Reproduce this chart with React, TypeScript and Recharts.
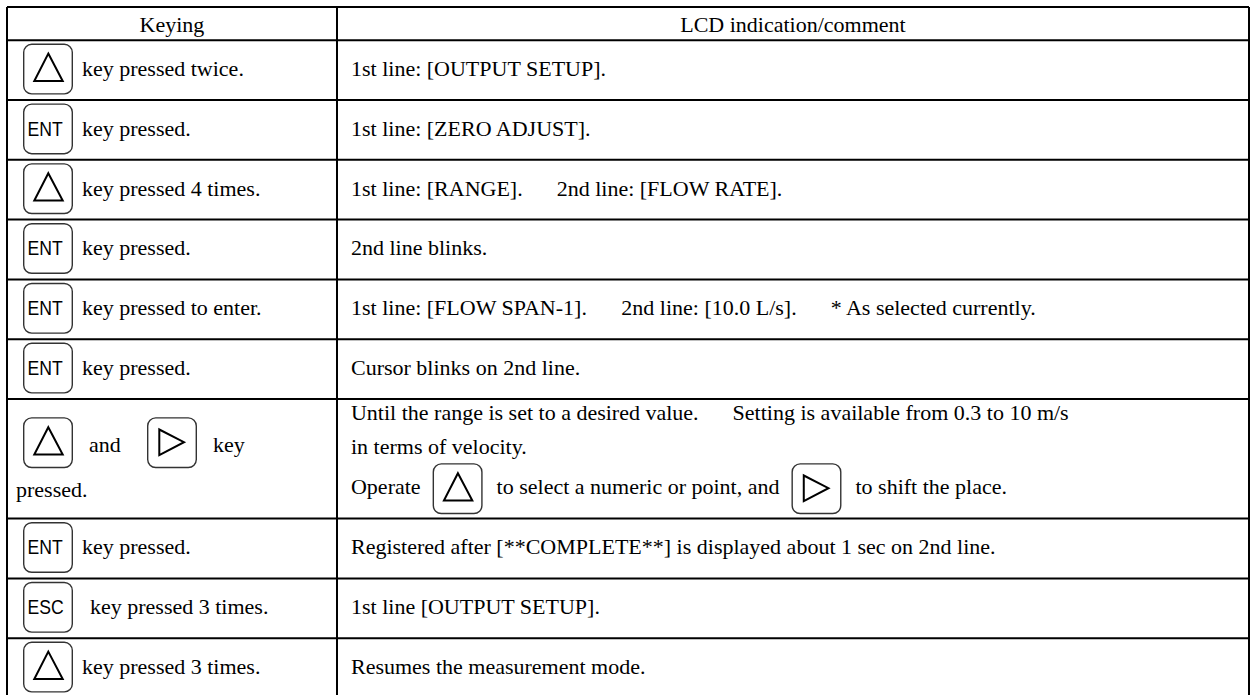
import React from "react";
import { ComposedChart, XAxis, YAxis, Scatter, ReferenceLine } from "recharts";

// column headers
const headerLabels = ["Keying", "LCD indication/comment"];

// keys drawn in the "Keying" column, one list per row
const rowKeys: string[][] = [
  ["up"],
  ["ENT"],
  ["up"],
  ["ENT"],
  ["ENT"],
  ["ENT"],
  ["up", "right"],
  ["ENT"],
  ["ESC"],
  ["up"],
];

// words following the keys
const keyingTexts: string[][] = [
  ["key pressed twice."],
  ["key pressed."],
  ["key pressed 4 times."],
  ["key pressed."],
  ["key pressed to enter."],
  ["key pressed."],
  ["and", "key", "pressed."],
  ["key pressed."],
  ["key pressed 3 times."],
  ["key pressed 3 times."],
];

// LCD column: lines of segments; "{up}" / "{right}" are key icons
const lcdLines: string[][][] = [
  [["1st line: [OUTPUT SETUP]."]],
  [["1st line: [ZERO ADJUST]."]],
  [["1st line: [RANGE].", "2nd line: [FLOW RATE]."]],
  [["2nd line blinks."]],
  [["1st line: [FLOW SPAN-1].", "2nd line: [10.0 L/s].", "* As selected currently."]],
  [["Cursor blinks on 2nd line."]],
  [
    ["Until the range is set to a desired value.", "Setting is available from 0.3 to 10 m/s"],
    ["in terms of velocity."],
    ["Operate", "{up}", "to select a numeric or point, and", "{right}", "to shift the place."],
  ],
  [["Registered after [**COMPLETE**] is displayed about 1 sec on 2nd line."]],
  [["1st line [OUTPUT SETUP]."]],
  [["Resumes the measurement mode."]],
];

// height of every row in row units
const rowSpans = [1, 1, 1, 1, 1, 1, 2, 1, 1, 1];
const HEADER_SPAN = 0.555;
const DIVIDER = 0.2657;

const FONT = "Liberation Serif";
const KEY_FONT = "Liberation Sans";
const FS = 22;

const boundaries: number[] = [0, HEADER_SPAN];
rowSpans.forEach((s) => boundaries.push(boundaries[boundaries.length - 1] + s));
const TOTAL = boundaries[boundaries.length - 1];

const keyingData = rowSpans.map((span, i) => ({ i, x: 0, y: boundaries[i + 1] + span / 2 }));
const lcdData = rowSpans.map((span, i) => ({ i, x: DIVIDER, y: boundaries[i + 1] + span / 2 }));
const headerData = [
  { i: 0, x: DIVIDER / 2, y: HEADER_SPAN / 2 },
  { i: 1, x: (DIVIDER + 1) / 2, y: HEADER_SPAN / 2 },
];

let ctx: CanvasRenderingContext2D | null = null;
function textWidth(s: string) {
  if (!ctx) ctx = document.createElement("canvas").getContext("2d");
  if (!ctx) return s.length * FS * 0.45;
  ctx.font = `${FS}px "${FONT}"`;
  return ctx.measureText(s).width;
}

const serif: React.CSSProperties = { fontFamily: `"${FONT}", serif`, fontSize: FS };
const sans: React.CSSProperties = { fontFamily: `"${KEY_FONT}", sans-serif`, fontSize: 20 };

function KeyIcon({ kind, x, y }: { kind: string; x: number; y: number }) {
  return (
    <g transform={`translate(${x},${y})`}>
      <rect x={0.7} y={0.7} width={48.6} height={49.6} rx={8} fill="#fff" stroke="#333" strokeWidth={1.4} />
      {kind === "up" && (
        <path d="M25.3 10 L39.7 37.4 L11.3 37.4 Z" fill="none" stroke="#000" strokeWidth={2} />
      )}
      {kind === "right" && (
        <path d="M12.3 12.3 L37 25 L12.3 38 Z" fill="none" stroke="#000" strokeWidth={2} />
      )}
      {(kind === "ENT" || kind === "ESC") && (
        <text transform="translate(4.5,32.5) scale(0.88,1)" style={sans} fill="#000">
          {kind}
        </text>
      )}
    </g>
  );
}

const txt = (x: number, y: number, s: string, key?: React.Key) => (
  <text key={key} x={x} y={y} style={serif} fill="#000">
    {s}
  </text>
);

const KeyingCell = (props: any) => {
  const { cx, cy, payload } = props;
  const keys = rowKeys[payload.i];
  const texts = keyingTexts[payload.i];
  if (keys.length === 2) {
    const top = cy - 41.6;
    return (
      <g>
        <KeyIcon kind={keys[0]} x={cx + 16} y={top} />
        {txt(cx + 82, cy - 6.6, texts[0])}
        <KeyIcon kind={keys[1]} x={cx + 140} y={top} />
        {txt(cx + 206, cy - 6.6, texts[1])}
        {txt(cx + 9, cy + 38.4, texts[2])}
      </g>
    );
  }
  const shift = keys[0] === "ESC" ? 8 : 0;
  return (
    <g>
      <KeyIcon kind={keys[0]} x={cx + 16} y={cy - 26.5} />
      {txt(cx + 75 + shift, cy + 6, texts[0])}
    </g>
  );
};

const LcdCell = (props: any) => {
  const { cx, cy, payload } = props;
  const lines = lcdLines[payload.i];
  const baselines = lines.length === 1 ? [cy + 6] : [cy - 38.6, cy - 4.6, cy + 35.4];
  const out: React.ReactNode[] = [];
  lines.forEach((segs, li) => {
    let x = cx + 14;
    let prevKey = false;
    segs.forEach((seg, si) => {
      const isKey = seg.startsWith("{");
      if (si > 0) x += isKey || prevKey ? (isKey ? 12 : 14) : 34;
      if (isKey) {
        out.push(<KeyIcon key={`${li}-${si}`} kind={seg.slice(1, -1)} x={x} y={cy + 4.4} />);
        x += 50;
      } else {
        out.push(txt(x, baselines[li], seg, `${li}-${si}`));
        x += textWidth(seg);
      }
      prevKey = isKey;
    });
  });
  return <g>{out}</g>;
};

const HeaderCell = (props: any) => {
  const { cx, cy, payload } = props;
  return (
    <text x={cx} y={cy + 8.3} textAnchor="middle" style={serif} fill="#000">
      {headerLabels[payload.i]}
    </text>
  );
};

export default function App() {
  return (
    <div style={{ width: 1250, height: 695, overflow: "hidden", background: "#fff" }}>
      <style>{"body{margin:0;background:#fff}"}</style>
      <ComposedChart width={1250} height={698} margin={{ top: 7, right: 1, bottom: 0, left: 7 }}>
        <XAxis type="number" dataKey="x" domain={[0, 1]} allowDataOverflow hide />
        <YAxis type="number" dataKey="y" domain={[0, TOTAL]} allowDataOverflow reversed hide />
        {boundaries.map((b) => (
          <ReferenceLine key={`h${b}`} y={b} stroke="#000" strokeWidth={2} ifOverflow="visible" />
        ))}
        {[0, DIVIDER, 1].map((v) => (
          <ReferenceLine key={`v${v}`} x={v} stroke="#000" strokeWidth={2} ifOverflow="visible" />
        ))}
        <Scatter data={headerData} shape={HeaderCell} isAnimationActive={false} />
        <Scatter data={keyingData} shape={KeyingCell} isAnimationActive={false} />
        <Scatter data={lcdData} shape={LcdCell} isAnimationActive={false} />
      </ComposedChart>
    </div>
  );
}
